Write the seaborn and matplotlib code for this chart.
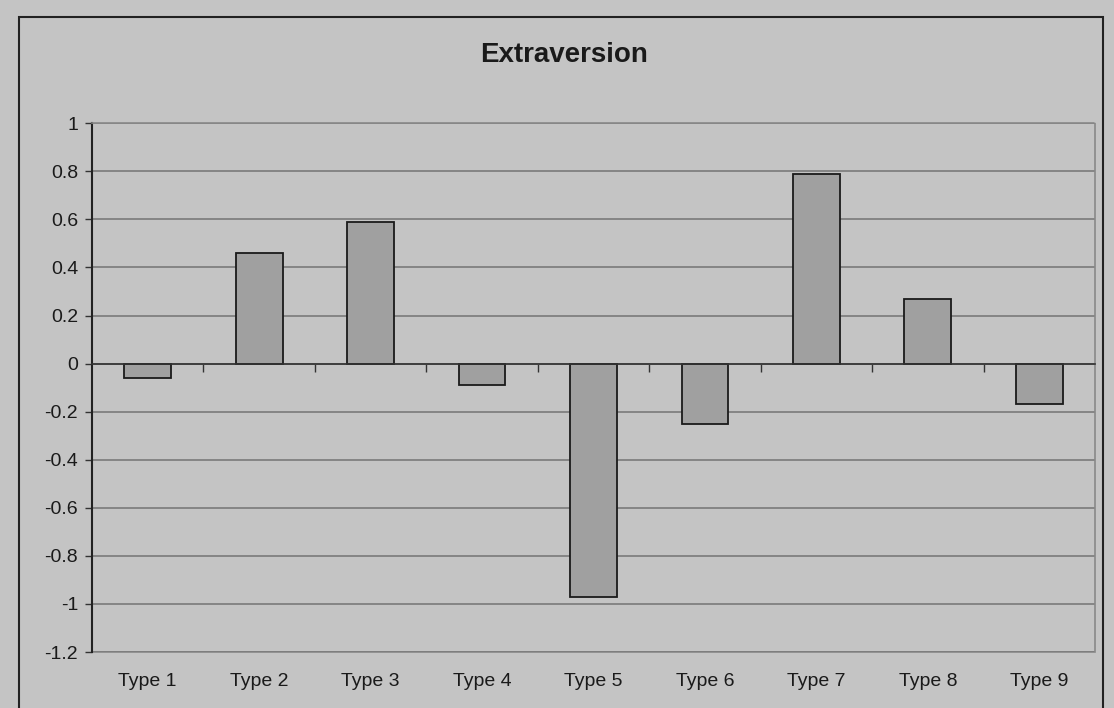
import pandas as pd
import numpy as np
import matplotlib
matplotlib.use("Agg")
import matplotlib.pyplot as plt
from matplotlib.patches import Rectangle
import seaborn as sns

types = ["Type 1", "Type 2", "Type 3", "Type 4", "Type 5",
         "Type 6", "Type 7", "Type 8", "Type 9"]
extraversion = [-0.06, 0.46, 0.59, -0.09, -0.97, -0.25, 0.79, 0.27, -0.17]
y_ticks = [1, 0.8, 0.6, 0.4, 0.2, 0, -0.2, -0.4, -0.6, -0.8, -1, -1.2]
y_labels = ["1", "0.8", "0.6", "0.4", "0.2", "0", "-0.2", "-0.4", "-0.6", "-0.8", "-1", "-1.2"]

df = pd.DataFrame({"Type": types, "Extraversion": extraversion})

sns.set_style("white")
plt.rcParams['font.family'] = ['Liberation Sans', 'DejaVu Sans']

bg = "#c4c4c4"
fig = plt.figure(figsize=(11.14, 7.08), dpi=100, facecolor=bg)
ax = fig.add_axes([0.0826, 0.079, 0.9004, 0.747])
ax.set_facecolor(bg)

sns.barplot(data=df, x="Type", y="Extraversion", color="#a0a0a0",
            edgecolor="#1a1a1a", linewidth=1.3, width=0.42, ax=ax, saturation=1)

ax.set_ylim(-1.2, 1)
ax.set_xlim(-0.5, 8.5)
ax.set_yticks(y_ticks)
ax.set_yticklabels(y_labels, fontsize=14, color="#1a1a1a")
ax.yaxis.grid(True, color="#7a7a7a", linewidth=1.2)
ax.set_axisbelow(True)
ax.set_xlabel("")
ax.set_ylabel("")

# category axis crosses at zero; labels go at the bottom
ax.spines['bottom'].set_position(('data', 0))
ax.spines['bottom'].set_color("#333333")
ax.spines['bottom'].set_linewidth(1.2)
ax.set_xticks(np.arange(0.5, 8.5, 1.0))
ax.set_xticklabels([])
ax.tick_params(axis='x', bottom=True, direction='out', length=6, width=1, color="#333333")
ax.tick_params(axis='y', left=True, direction='out', length=5, width=1, color="#333333", pad=5)
ax.spines['left'].set_color("#222222")
ax.spines['left'].set_linewidth(1.5)
for side in ['top', 'right']:
    ax.spines[side].set_color("#888888")
    ax.spines[side].set_linestyle((0, (1, 1)))
    ax.spines[side].set_linewidth(1.2)

sec = ax.secondary_xaxis(0.0)
sec.set_xticks(range(len(types)))
sec.set_xticklabels(types, fontsize=14, color="#1a1a1a")
sec.tick_params(bottom=False, length=0, pad=15)
sec.spines['bottom'].set_color("#888888")
sec.spines['bottom'].set_linestyle((0, (1, 1)))
sec.spines['bottom'].set_linewidth(1.2)

fig.text(0.506, 0.922, "Extraversion", ha="center", va="center",
         fontsize=20, fontweight="bold", color="#1a1a1a")

fig.patches.append(Rectangle((19 / 1114, -0.01), (1103 - 19) / 1114, (708 - 17) / 708 + 0.01,
                             transform=fig.transFigure, fill=False,
                             edgecolor="#222222", linewidth=1.5))

fig.savefig("out.png", dpi=100, facecolor=bg)
